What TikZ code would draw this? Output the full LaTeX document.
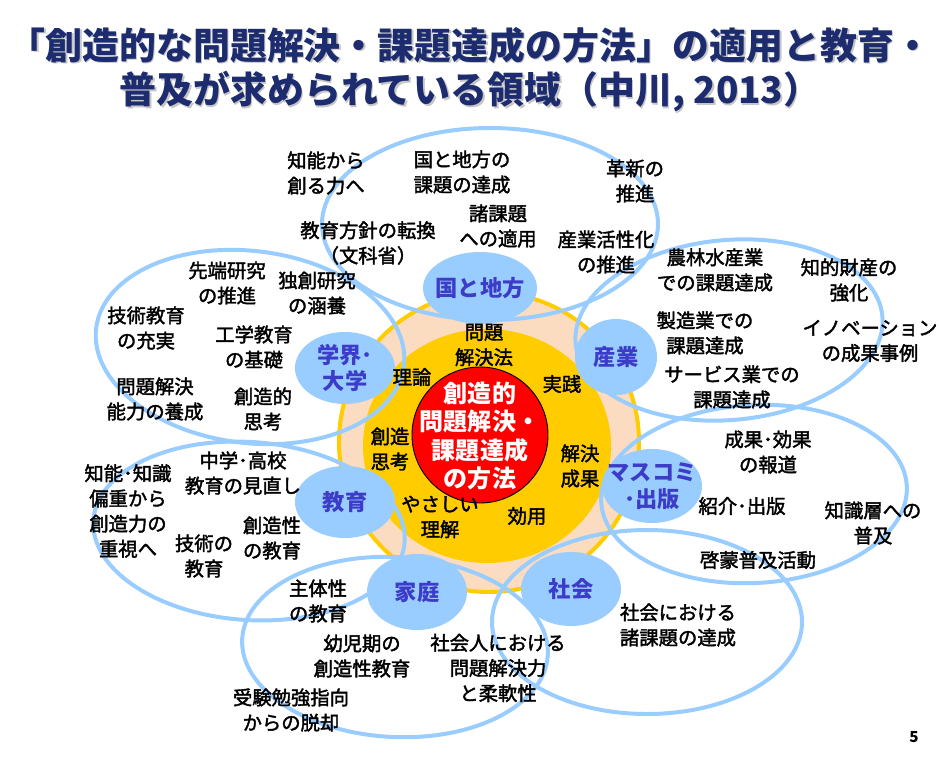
\documentclass[tikz,border=0pt]{standalone}
\usepackage{fontspec}
\setmainfont{Noto Sans CJK JP}
\newfontfamily\futome{Noto Sans CJK JP}[FakeBold=2]
\usetikzlibrary{shapes.geometric, positioning}
\definecolor{aoiro}{RGB}{153,204,255}
\definecolor{aomoji}{RGB}{60,60,200}
\definecolor{momo}{RGB}{252,220,192}
\definecolor{kiiro}{RGB}{255,204,0}
\definecolor{kon}{RGB}{28,44,110}

\begin{document}
\begin{tikzpicture}[x=0.03cm, y=-0.03cm,
  koumoku/.style={align=center, inner sep=0pt, font=\futome\fontsize{16.5pt}{21.5pt}\selectfont},
  ryoiki/.style={align=center, inner sep=0pt, text=aomoji, font=\bfseries\fontsize{19pt}{23pt}\selectfont},
  waku/.style={draw=aoiro, line width=3.4pt},
  midashi/.style={inner sep=0pt, font=\bfseries\fontsize{31.5pt}{36pt}\selectfont}]
\fill[white] (0,0) rectangle (939,758);
\useasboundingbox (0,0) rectangle (939,758);

% タイトル
\node[midashi, text=gray!45] (title1s) at (471.5,46.5) {「創造的な問題解決・課題達成の方法」の適用と教育・};
\node[midashi, text=gray!45] (title2s) at (471.5,93.5) {普及が求められている領域（中川, 2013）};
\node[midashi, text=kon] (title1) at (470,45) {「創造的な問題解決・課題達成の方法」の適用と教育・};
\node[midashi, text=kon] (title2) at (470,92) {普及が求められている領域（中川, 2013）};

% 中心の円
\draw[fill=momo, draw=kiiro, line width=3.4pt] (489,442) circle [radius=150];
\fill[kiiro] (487,446) ellipse [x radius=124, y radius=117];
\draw[fill=red, draw=black, line width=0.8pt] (480,435) circle [radius=68];

% 領域の楕円（枠）
\foreach \cx/\cy/\rx/\ry/\ang in {490/224/168/96/0, 250/347/155/96/-7, 729/330/154/90/5,
    754/494/153/89/3, 647/622/155/92/0, 395/647/153/90/-3, 249/531/156/89/-4} {
    \draw[waku, rotate around={\ang:(\cx,\cy)}] (\cx,\cy) ellipse [x radius=\rx, y radius=\ry];
}

% 領域の名前
\foreach \nm/\cx/\cy/\rx/\ry/\txt in {kuni/480/288/57/36/{国と地方}, gakkai/345/368/50/36/{学界･\\大学},
    sangyo/616/357/41/38/{産業}, masukomi/652/486/50/37/{マスコミ\\･出版}, shakai/571/589/50/37/{社会},
    katei/417/592/50/38/{家庭}, kyoiku/345/502/50/36/{教育}} {
    \fill[aoiro] (\cx,\cy) ellipse [x radius=\rx, y radius=\ry];
    \node[ryoiki] (\nm) at (\cx,\cy) {\txt};
}

\node[align=center, inner sep=0pt, text=white, font=\bfseries\fontsize{20.5pt}{24pt}\selectfont] (hoho) at (480,436) {創造的\\問題解決・\\課題達成\\の方法};

% 項目
\node[koumoku] (chino) at (326,173) {知能から\\創る力へ};
\node[koumoku] (kunichiho) at (462,172) {国と地方の\\課題の達成};
\node[koumoku] (kakushin) at (635,181) {革新の\\推進};
\node[koumoku] (hoshin) at (368,243) {教育方針の転換\\（文科省）};
\node[koumoku] (shokadai) at (498,226) {諸課題\\への適用};
\node[koumoku] (kassei) at (606,252) {産業活性化\\の推進};
\node[koumoku] (norin) at (715,270) {農林水産業\\での課題達成};
\node[koumoku] (chiteki) at (849,280) {知的財産の\\強化};
\node[koumoku] (sentan) at (227,283) {先端研究\\の推進};
\node[koumoku] (dokuso) at (317,293) {独創研究\\の涵養};
\node[koumoku] (gijutsu) at (146,328) {技術教育\\の充実};
\node[koumoku] (kogaku) at (254,347) {工学教育\\の基礎};
\node[koumoku] (seizo) at (705,333) {製造業での\\課題達成};
\node[koumoku] (inobe) at (870,341) {イノベーション\\の成果事例};
\node[koumoku] (mondai) at (155,399) {問題解決\\能力の養成};
\node[koumoku] (sozoteki) at (263,409) {創造的\\思考};
\node[koumoku] (service) at (732,387) {サービス業での\\課題達成};
\node[koumoku] (riron) at (412,377) {理論};
\node[koumoku] (mondaiho) at (484,345) {問題\\解決法};
\node[koumoku] (jissen) at (562,384) {実践};
\node[koumoku] (sozoshiko) at (390,449) {創造\\思考};
\node[koumoku] (kaiketsu) at (580,466) {解決\\成果};
\node[koumoku] (yasashii) at (440,517) {やさしい\\理解};
\node[koumoku] (koyo) at (527,516) {効用};
\node[koumoku] (seika) at (768,452) {成果･効果\\の報道};
\node[koumoku] (shokai) at (742,506) {紹介･出版};
\node[koumoku] (chishiki) at (873,523) {知識層への\\普及};
\node[koumoku] (keimo) at (758,560) {啓蒙普及活動};
\node[koumoku] (henju) at (128,511) {知能･知識\\偏重から\\創造力の\\重視へ};
\node[koumoku] (chugaku) at (243,473) {中学･高校\\教育の見直し};
\node[koumoku] (sozosei) at (272,538) {創造性\\の教育};
\node[koumoku] (gijutsuno) at (204,556) {技術の\\教育};
\node[koumoku] (shutai) at (318,601) {主体性\\の教育};
\node[koumoku] (yoji) at (362,656) {幼児期の\\創造性教育};
\node[koumoku] (shakaijin) at (498,668) {社会人における\\問題解決力\\と柔軟性};
\node[koumoku] (shakaini) at (678,625) {社会における\\諸課題の達成};
\node[koumoku] (juken) at (291,710) {受験勉強指向\\からの脱却};

\node[inner sep=0pt, font=\bfseries\fontsize{13pt}{15pt}\selectfont] (page) at (914,737) {5};
\end{tikzpicture}
\end{document}
